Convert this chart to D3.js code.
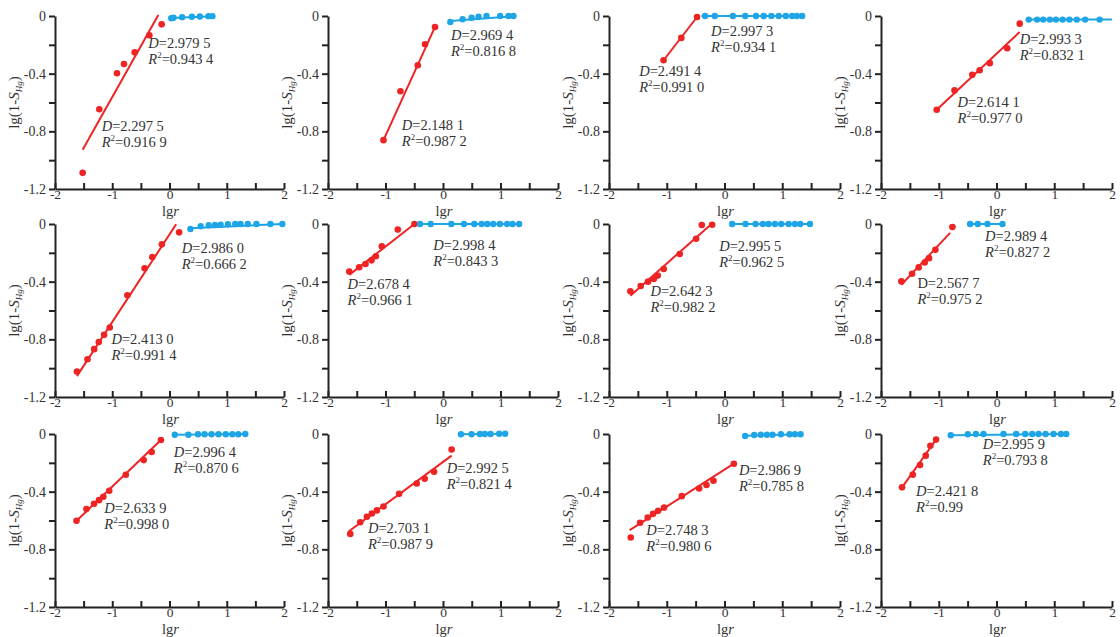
<!DOCTYPE html>
<html><head><meta charset="utf-8">
<script src="https://cdn.jsdelivr.net/npm/d3@7"></script>
<style>
body{margin:0;background:#fff}
svg{display:block}
text{font-family:"Liberation Serif","Times New Roman",serif;fill:#333}
</style>
</head><body>
<svg id="c" width="1120" height="637"></svg>
<script>
// ---------- data ----------
const xTickValues = [-2,-1.5,-1,-0.5,0,0.5,1,1.5,2];
const xTickLabels = {"-2":"-2","-1":"-1","0":"0","1":"1","2":"2"};
const yTickValues = [0,-0.2,-0.4,-0.6,-0.8,-1.0,-1.2];
const yTickLabels = {"0":"0","-0.4":"-0.4","-0.8":"-0.8","-1.2":"-1.2"};

const redX = [
 [-1.517,-1.226,-0.917,-0.795,-0.608,-0.352,-0.137],
 [-1.035,-0.740,-0.439,-0.312,-0.139],
 [-1.055,-0.748,-0.475],
 [-1.035,-0.727,-0.419,-0.291,-0.116,0.186,0.401],
 [-1.617,-1.432,-1.316,-1.235,-1.142,-1.043,-0.736,-0.435,-0.301,-0.133,0.168],
 [-1.630,-1.457,-1.347,-1.243,-1.168,-1.064,-0.786,-0.497],
 [-1.630,-1.451,-1.324,-1.225,-1.156,-1.052,-0.775,-0.491,-0.393,-0.214],
 [-1.647,-1.462,-1.347,-1.243,-1.168,-1.058,-0.763],
 [-1.624,-1.451,-1.318,-1.231,-1.156,-1.052,-0.763,-0.451,-0.312,-0.150],
 [-1.613,-1.439,-1.324,-1.237,-1.150,-1.035,-0.763,-0.457,-0.318,-0.156,0.150],
 [-1.624,-1.462,-1.329,-1.237,-1.150,-1.046,-0.740,-0.439,-0.312,-0.191,0.162],
 [-1.636,-1.451,-1.324,-1.225,-1.145,-1.046]
];
const redY = [
 [-1.088,-0.647,-0.397,-0.333,-0.252,-0.134,-0.058],
 [-0.861,-0.522,-0.342,-0.196,-0.076],
 [-0.307,-0.152,-0.007],
 [-0.650,-0.516,-0.408,-0.376,-0.327,-0.224,-0.053],
 [-1.023,-0.938,-0.868,-0.818,-0.769,-0.718,-0.494,-0.307,-0.229,-0.141,-0.058],
 [-0.330,-0.300,-0.277,-0.252,-0.224,-0.155,-0.039,0],
 [-0.467,-0.430,-0.400,-0.381,-0.358,-0.312,-0.208,-0.102,-0.007,-0.005],
 [-0.398,-0.345,-0.301,-0.267,-0.237,-0.179,-0.021],
 [-0.602,-0.521,-0.484,-0.459,-0.435,-0.394,-0.283,-0.181,-0.125,-0.042],
 [-0.693,-0.612,-0.574,-0.551,-0.530,-0.503,-0.415,-0.343,-0.310,-0.262,-0.107],
 [-0.718,-0.616,-0.579,-0.554,-0.533,-0.510,-0.431,-0.378,-0.354,-0.324,-0.206],
 [-0.370,-0.282,-0.215,-0.150,-0.081,-0.039]
];
// fitted lines: [x1, y1, x2, y2]
const redFit = [
 [-1.517,-0.928,-0.195,0.007],
 [-1.035,-0.861,-0.139,-0.076],
 [-1.055,-0.307,-0.475,-0.007],
 [-1.035,-0.650,0.401,-0.111],
 [-1.617,-1.055,0.116,-0.002],
 [-1.630,-0.353,-0.497,0],
 [-1.630,-0.497,-0.225,0],
 [-1.647,-0.421,-0.803,-0.062],
 [-1.624,-0.602,-0.150,-0.042],
 [-1.642,-0.676,0.150,-0.150],
 [-1.642,-0.667,0.162,-0.206],
 [-1.636,-0.370,-1.046,-0.039]
];
const blueX = [
 [0.03,0.07,0.22,0.39,0.53,0.68,0.75],
 [0.127,0.341,0.497,0.618,0.757,0.994,1.139,1.225],
 [-0.336,-0.168,0.145,0.359,0.545,0.678,0.812,0.939,1.061,1.171,1.252,1.345],
 [0.558,0.703,0.808,0.924,1.029,1.145,1.262,1.390,1.535,1.785],
 [0.365,0.545,0.684,0.794,0.893,1.020,1.148,1.241,1.368,1.519,1.762,1.971],
 [-0.399,-0.214,0.145,0.364,0.543,0.671,0.769,0.873,0.988,1.116,1.208,1.324],
 [0.133,0.364,0.538,0.665,0.763,0.873,0.983,1.110,1.220,1.312,1.480],
 [-0.457,-0.324,-0.156,0.104],
 [0.092,0.329,0.497,0.613,0.734,0.855,0.983,1.098,1.202,1.324],
 [0.312,0.497,0.642,0.728,0.827,0.977,1.081],
 [0.358,0.514,0.630,0.734,0.832,0.977,1.127,1.220,1.318],
 [-0.792,-0.497,-0.358,-0.225,0.121,0.341,0.497,0.618,0.728,0.850,0.988,1.116,1.208]
];
const blueY = [
 [-0.016,-0.012,-0.008,-0.005,-0.003,-0.001,-0.001],
 [-0.042,-0.023,-0.012,-0.005,0,0,0,0],
 [0,0,0,0,0,0,0,0,0,0,0,0],
 [-0.025,-0.025,-0.025,-0.025,-0.025,-0.025,-0.025,-0.025,-0.025,-0.025],
 [-0.035,-0.016,-0.009,-0.007,-0.005,-0.002,0,0,0,0,0,0],
 [0,0,0,0,0,0,0,0,0,0,0,0],
 [0,0,0,0,0,0,0,0,0,0,0],
 [0,0,0,0],
 [-0.005,-0.005,-0.002,-0.002,-0.002,-0.002,-0.002,-0.002,-0.002,0],
 [-0.002,-0.002,0,0,0,0.002,0.002],
 [-0.014,-0.007,-0.005,-0.005,-0.005,-0.002,-0.002,-0.002,-0.002],
 [-0.009,-0.002,0,0,0,0,0,0,0,0,0,0,0]
];
const blueFit = [
 [0.03,-0.014,0.76,-0.001],
 [0.127,-0.035,1.225,-0.002],
 [-0.40,0,1.345,0],
 [0.558,-0.025,2.0,-0.025],
 [0.365,-0.030,1.971,0],
 [-0.457,0,1.324,0],
 [0.133,0,1.480,0],
 [-0.457,0,0.104,0],
 [0.092,-0.005,1.324,0],
 [0.312,-0.002,1.081,0.002],
 [0.358,-0.012,1.318,-0.002],
 [-0.792,-0.008,1.208,0]
];
const upperD  = ["2.979 5","2.969 4","2.997 3","2.993 3","2.986 0","2.998 4","2.995 5","2.989 4","2.996 4","2.992 5","2.986 9","2.995 9"];
const upperR2 = ["0.943 4","0.816 8","0.934 1","0.832 1","0.666 2","0.843 3","0.962 5","0.827 2","0.870 6","0.821 4","0.785 8","0.793 8"];
const lowerD  = ["2.297 5","2.148 1","2.491 4","2.614 1","2.413 0","2.678 4","2.642 3","2.567 7","2.633 9","2.703 1","2.748 3","2.421 8"];
const lowerR2 = ["0.916 9","0.987 2","0.991 0","0.977 0","0.991 4","0.966 1","0.982 2","0.975 2","0.998 0","0.987 9","0.980 6","0.99"];
const lowerDItalic = [true,true,true,true,true,true,true,false,true,true,true,true];

// ---------- layout ----------
const colX = [[55,284],[328,558],[609,840],[881,1112]];
const rowY = [[16,189],[224,397],[434,607]];
// label anchors in data coordinates [lgr, lg(1-S)] (baseline of D line)
const upperPos = [[-0.370,-0.219],[0.139,-0.166],[-0.232,-0.139],[0.401,-0.196],[0.214,-0.203],[-0.168,-0.180],[-0.092,-0.187],[-0.197,-0.115],[0.075,-0.158],[0.064,-0.273],[0.249,-0.285],[-0.237,-0.104]];
const lowerPos = [[-1.185,-0.799],[-0.717,-0.790],[-1.478,-0.413],[-0.674,-0.634],[-1.014,-0.831],[-1.659,-0.450],[-1.283,-0.497],[-1.370,-0.444],[-1.139,-0.547],[-1.306,-0.690],[-1.353,-0.702],[-1.393,-0.427]];

const RED = "#ee2424", BLUE = "#1ea5e6", AX = "#222";
const FONT = '"Liberation Serif","Times New Roman",serif';
const svg = d3.select("#c");

function addLabel(g, x, y, dStr, rStr, dItalic){
  const t1 = g.append("text").attr("x", x).attr("y", y).attr("font-size", 14.5);
  t1.append("tspan").attr("font-style", dItalic ? "italic" : "normal").text("D");
  t1.append("tspan").text("=" + dStr);
  const t2 = g.append("text").attr("x", x).attr("y", y + 16).attr("font-size", 14.5);
  t2.append("tspan").attr("font-style", "italic").text("R");
  t2.append("tspan").attr("font-size", 9).attr("dy", -6).text("2");
  t2.append("tspan").attr("dy", 6).text("=" + rStr);
}

for (let i = 0; i < 12; i++) {
  const r = Math.floor(i / 4), c = i % 4;
  const x = d3.scaleLinear().domain([-2, 2]).range(colX[c]);
  const y = d3.scaleLinear().domain([0, -1.2]).range(rowY[r]);
  const g = svg.append("g");

  // x axis (ticks inward/upward)
  const xa = g.append("g").attr("transform", `translate(0,${rowY[r][1]})`)
    .call(d3.axisBottom(x).tickValues(xTickValues).tickSizeInner(-6).tickSizeOuter(0)
      .tickPadding(1).tickFormat(d => xTickLabels[String(d)] || ""));
  // y axis (ticks outward/left)
  const ya = g.append("g").attr("transform", `translate(${colX[c][0]},0)`)
    .call(d3.axisLeft(y).tickValues(yTickValues).tickSizeInner(6).tickSizeOuter(0)
      .tickPadding(3).tickFormat(d => yTickLabels[String(+d.toFixed(1))] || ""));
  [xa, ya].forEach(a => {
    a.attr("font-family", FONT);
    a.select(".domain").attr("stroke", AX).attr("stroke-width", 2);
    a.selectAll(".tick line").attr("stroke", AX).attr("stroke-width", 2);
    a.selectAll(".tick text").attr("font-size", 14).attr("fill", "#333");
  });
  xa.selectAll(".tick text").attr("font-size", 13.5).attr("dy", "0.7em");

  // axis titles
  const xt = g.append("text").attr("x", (colX[c][0] + colX[c][1]) / 2 + 1).attr("y", rowY[r][1] + 27)
    .attr("text-anchor", "middle").attr("font-size", 14.5);
  xt.append("tspan").text("lg");
  xt.append("tspan").attr("font-style", "italic").text("r");

  const yt = g.append("text")
    .attr("transform", `translate(${colX[c][0] - 36},${(rowY[r][0] + rowY[r][1]) / 2}) rotate(-90)`)
    .attr("text-anchor", "middle").attr("font-size", 15);
  yt.append("tspan").text("lg(1-");
  yt.append("tspan").attr("font-style", "italic").text("S");
  yt.append("tspan").attr("font-style", "italic").attr("font-size", 9).attr("dy", 3).text("Hg");
  yt.append("tspan").attr("dy", -3).text(")");

  // fitted lines
  const rf = redFit[i], bf = blueFit[i];
  g.append("line").attr("x1", x(rf[0])).attr("y1", y(rf[1])).attr("x2", x(rf[2])).attr("y2", y(rf[3]))
    .attr("stroke", RED).attr("stroke-width", 2);
  g.append("line").attr("x1", x(bf[0])).attr("y1", y(bf[1])).attr("x2", x(bf[2])).attr("y2", y(bf[3]))
    .attr("stroke", BLUE).attr("stroke-width", 2);

  // points
  g.append("g").selectAll("circle").data(d3.zip(redX[i], redY[i])).join("circle")
    .attr("cx", d => x(d[0])).attr("cy", d => y(d[1])).attr("r", 3.3).attr("fill", RED);
  g.append("g").selectAll("circle").data(d3.zip(blueX[i], blueY[i])).join("circle")
    .attr("cx", d => x(d[0])).attr("cy", d => y(d[1])).attr("r", 3.2).attr("fill", BLUE);

  // annotations
  addLabel(g, x(upperPos[i][0]), y(upperPos[i][1]), upperD[i], upperR2[i], true);
  addLabel(g, x(lowerPos[i][0]), y(lowerPos[i][1]), lowerD[i], lowerR2[i], lowerDItalic[i]);
}
</script>
</body></html>
